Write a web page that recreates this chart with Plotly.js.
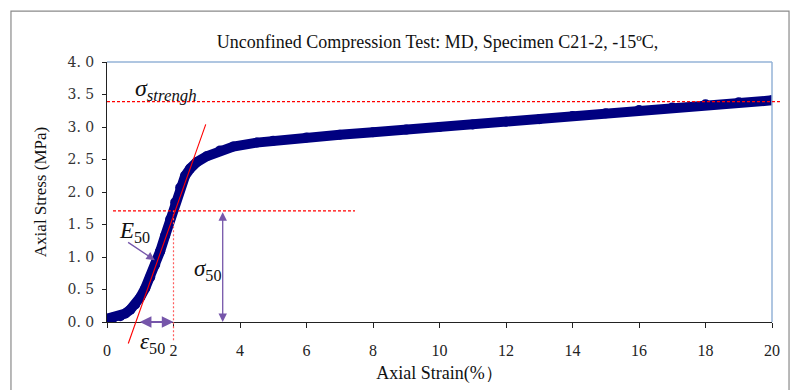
<!DOCTYPE html>
<html>
<head>
<meta charset="utf-8">
<script src="https://cdn.plot.ly/plotly-3.0.1.min.js"></script>
<style>html,body{margin:0;padding:0;background:#fff;}#chart{width:791px;height:390px;}</style>
</head>
<body>
<div id="chart"></div>
<script>
// ---- data ----
const strain = [0.00, 0.20, 0.40, 0.55, 0.70, 0.85, 1.00, 1.15, 1.30, 1.45, 1.60, 1.75, 1.90, 2.05, 2.20, 2.35, 2.50, 2.70, 3.00, 3.40, 3.80, 4.50, 5.00, 6.00, 7.00, 8.00, 9.00, 10.00, 11.00, 12.00, 13.00, 14.00, 15.00, 16.00, 17.00, 18.00, 19.00, 20.00];
const stress = [0.05, 0.07, 0.09, 0.13, 0.19, 0.27, 0.38, 0.52, 0.69, 0.88, 1.09, 1.33, 1.58, 1.84, 2.07, 2.25, 2.36, 2.46, 2.55, 2.64, 2.70, 2.76, 2.79, 2.84, 2.88, 2.92, 2.96, 3.00, 3.04, 3.08, 3.12, 3.17, 3.21, 3.26, 3.30, 3.35, 3.38, 3.41];

const xTickVals = [0, 2, 4, 6, 8, 10, 12, 14, 16, 18, 20];
const xTickText = ["0", "2", "4", "6", "8", "10", "12", "14", "16", "18", "20"];
const yTickVals = [0, 0.5, 1.0, 1.5, 2.0, 2.5, 3.0, 3.5, 4.0];
const yTickText = ["0. 0", "0. 5", "1. 0", "1. 5", "2. 0", "2. 5", "3. 0", "3. 5", "4. 0"];

// characteristic values
const sigmaStrength = 3.39;
const sigma50 = 1.71;
const eps50 = 2.0;
const tangentStrain = [0.64, 2.97];
const tangentStress = [-0.33, 3.04];

const xRange = [0, 20];
const yRange = [0, 4];
function px(v) { return (v - xRange[0]) / (xRange[1] - xRange[0]); }
function py(v) { return (v - yRange[0]) / (yRange[1] - yRange[0]); }

const serif = "Liberation Serif, Times New Roman, serif";
const tickSerif = "DejaVu Serif, serif";
const purple = "#7656AA";

const trace = {
  x: strain, y: stress, type: "scatter", mode: "lines+markers",
  line: { color: "#000080", width: 10 },
  marker: { color: "#000080", size: 10 },
  hoverinfo: "skip", showlegend: false
};

const layout = {
  width: 791, height: 390,
  margin: { l: 107, r: 19, t: 62, b: 68 },
  paper_bgcolor: "#ffffff", plot_bgcolor: "#ffffff",
  showlegend: false,
  title: {
    text: "Unconfined Compression Test: MD, Specimen C21-2, -15ºC,",
    font: { family: serif, size: 18, color: "#111" },
    x: 0.497, xref: "paper", xanchor: "center",
    y: 0.892, yref: "container", yanchor: "middle"
  },
  xaxis: {
    range: xRange, showgrid: false, zeroline: false,
    showline: true, linecolor: "#222", linewidth: 1,
    ticks: "outside", ticklen: 5, tickcolor: "#222",
    tickvals: xTickVals, ticktext: xTickText,
    ticklabelstandoff: 9,
    tickfont: { family: serif, size: 16, color: "#222" },
    title: { text: "Axial Strain(%）", font: { family: serif, size: 18, color: "#111" }, standoff: 8 }
  },
  yaxis: {
    range: yRange, showgrid: false, zeroline: false,
    showline: true, linecolor: "#222", linewidth: 1,
    ticks: "outside", ticklen: 4, tickcolor: "#222",
    tickvals: yTickVals, ticktext: yTickText,
    ticklabelstandoff: 5,
    tickfont: { family: tickSerif, size: 14, color: "#333" },
    title: { text: "Axial Stress (MPa)", font: { family: serif, size: 17, color: "#111" }, standoff: 16 }
  },
  shapes: [
    // outer frame
    { type: "rect", xref: "paper", yref: "paper", x0: -0.1444, x1: 1.0256, y0: -0.5, y1: 1.196,
      line: { color: "#8a8a8a", width: 1.2 }, fillcolor: "rgba(0,0,0,0)" },
    // top and right plot border (blue)
    { type: "line", xref: "paper", yref: "paper", x0: 0, x1: 1, y0: 1, y1: 1, line: { color: "#95B3D7", width: 1.5 } },
    { type: "line", xref: "paper", yref: "paper", x0: 1, x1: 1, y0: 0, y1: 1, line: { color: "#95B3D7", width: 1.5 } },
    // sigma strength line
    { type: "line", xref: "paper", yref: "paper", x0: px(0), x1: px(20.24), y0: py(sigmaStrength), y1: py(sigmaStrength),
      line: { color: "#ff0000", width: 1.3, dash: "3px,2px" } },
    // sigma 50 line
    { type: "line", xref: "paper", yref: "paper", x0: px(0.18), x1: px(7.46), y0: py(sigma50), y1: py(sigma50),
      line: { color: "#ff0000", width: 1.3, dash: "3px,2px" } },
    // eps 50 vertical
    { type: "line", xref: "paper", yref: "paper", x0: px(eps50), x1: px(eps50), y0: py(-0.28), y1: py(sigma50),
      line: { color: "#ff5c5c", width: 1.2, dash: "2px,2px" } },
    // tangent (E50)
    { type: "line", xref: "paper", yref: "paper", x0: px(tangentStrain[0]), x1: px(tangentStrain[1]),
      y0: py(tangentStress[0]), y1: py(tangentStress[1]), line: { color: "#ff0000", width: 1.1 } }
  ],
  annotations: [
    { x: 0.78, y: 3.57, xref: "x", yref: "y", xanchor: "left", yanchor: "middle", showarrow: false,
      text: "<i>σ</i><sub><i>strengh</i></sub>", font: { family: serif, size: 24, color: "#111" } },
    { x: 0.29, y: 1.38, xref: "x", yref: "y", xanchor: "left", yanchor: "middle", showarrow: false,
      text: "<i>E</i><sub>50</sub>", font: { family: serif, size: 23, color: "#111" } },
    { x: 2.55, y: 0.8, xref: "x", yref: "y", xanchor: "left", yanchor: "middle", showarrow: false,
      text: "<i>σ</i><sub>50</sub>", font: { family: serif, size: 23, color: "#111" } },
    { x: 0.93, y: 0, xref: "x", yref: "y", xanchor: "left", yanchor: "middle", yshift: -21, showarrow: false,
      text: "<i>ε</i><sub>50</sub>", font: { family: serif, size: 23, color: "#111" } },
    // E50 pointer
    { x: 1.44, y: 0.95, ax: 0.59, ay: 1.24, xref: "x", yref: "y", axref: "x", ayref: "y", text: "",
      showarrow: true, arrowhead: 2, arrowsize: 1.3, arrowwidth: 1.3, arrowcolor: purple, standoff: 0 },
    // sigma50 double arrow
    { x: 3.48, y: 0, ax: 3.48, ay: sigma50, xref: "x", yref: "y", axref: "x", ayref: "y", text: "",
      showarrow: true, arrowhead: 2, arrowside: "end+start", arrowsize: 1.3, arrowwidth: 1.3, arrowcolor: purple,
      standoff: 0, startstandoff: 0 },
    // eps50 double arrow
    { x: eps50, y: 0, ax: 0.94, ay: 0, xref: "x", yref: "y", axref: "x", ayref: "y", text: "",
      showarrow: true, arrowhead: 2, arrowside: "end+start", arrowsize: 1.3, arrowwidth: 1.8, arrowcolor: purple,
      standoff: 0, startstandoff: 0 }
  ]
};

Plotly.newPlot("chart", [trace], layout, { staticPlot: true, displayModeBar: false });
</script>
</body>
</html>
